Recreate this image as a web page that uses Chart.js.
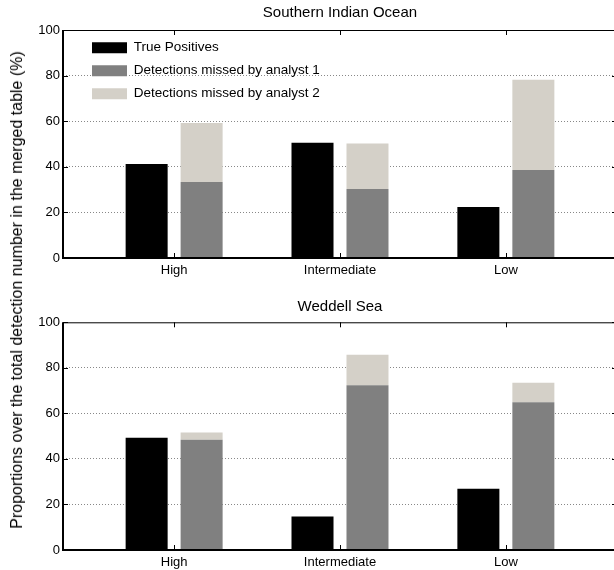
<!DOCTYPE html>
<html>
<head>
<meta charset="utf-8">
<script src="https://cdn.jsdelivr.net/npm/chart.js@4.4.0/dist/chart.umd.min.js"></script>
<style>
  html, body { margin:0; padding:0; background:#fff; overflow:hidden; width:614px; height:570px; }
  #wrap { position:relative; width:614px; height:570px; overflow:hidden; }
  .panel { position:absolute; left:0; width:617px; height:285px; }
  #ylab { position:absolute; left:17px; top:290px; transform:translate(-50%,-50%) rotate(-90deg);
          white-space:nowrap; font:16px "Liberation Sans", Arial, sans-serif; color:#000; }
</style>
</head>
<body>
<div id="wrap">
  <div class="panel" style="top:0"><canvas id="sio"></canvas></div>
  <div class="panel" style="top:285px"><canvas id="wed"></canvas></div>
  <div id="ylab">Proportions over the total detection number in the merged table (%)</div>
</div>
<script>
// data (percent)
const categories = ['High', 'Intermediate', 'Low'];
const seriesNames = ['True Positives', 'Detections missed by analyst 1', 'Detections missed by analyst 2'];
const yTicks = [0, 20, 40, 60, 80, 100];

// Southern Indian Ocean
const sioTrue    = [41.2, 50.5, 22.4];
const sioMissed1 = [33.3, 30.3, 38.6];
const sioMissed2 = [25.9, 19.9, 39.6]; // stacked on top of analyst 1

// Weddell Sea
const wedTrue    = [49.3, 14.7, 26.9];
const wedMissed1 = [48.4, 72.4, 64.9];
const wedMissed2 = [3.2, 13.3, 8.6];

Chart.defaults.font.family = '"Liberation Sans", Arial, sans-serif';
Chart.defaults.color = '#000';

// matlab-like box with inward ticks
const frame = {
  id: 'frame',
  afterDraw(chart) {
    const { ctx, chartArea: a, scales: { x, y } } = chart;
    ctx.save();
    ctx.strokeStyle = '#000';
    ctx.lineWidth = 1;
    ctx.beginPath();
    y.ticks.forEach(t => {
      const py = Math.round(y.getPixelForValue(t.value)) + 0.5;
      ctx.moveTo(a.left, py); ctx.lineTo(a.left + 5, py);
      ctx.moveTo(a.right, py); ctx.lineTo(a.right - 5, py);
    });
    x.ticks.forEach(t => {
      const px = Math.round(x.getPixelForValue(t.value)) + 0.5;
      ctx.moveTo(px, a.bottom); ctx.lineTo(px, a.bottom - 5);
      ctx.moveTo(px, a.top); ctx.lineTo(px, a.top + 5);
    });
    ctx.stroke();
    ctx.beginPath();
    ctx.moveTo(a.left, a.top + 0.5); ctx.lineTo(a.right, a.top + 0.5);
    ctx.stroke();
    ctx.lineWidth = 2;
    ctx.beginPath();
    ctx.moveTo(a.left, a.top); ctx.lineTo(a.left, a.bottom); ctx.lineTo(a.right, a.bottom);
    ctx.stroke();
    ctx.restore();
  }
};

// put the legend inside the plot box, a bit right of the axis
const legendShift = {
  id: 'legendShift',
  afterLayout(chart) {
    const lg = chart.legend, a = chart.chartArea;
    if (!lg) return;
    const h = lg.bottom - lg.top;
    lg.top = a.top + 1.5; lg.bottom = lg.top + h;
    lg.left += 19.5; lg.right += 19.5;
  }
};

function makeChart(id, title, tp, m1, m2, o) {
  const pts = arr => arr.map((v, i) => ({ x: i + 1, y: v }));
  return new Chart(document.getElementById(id), {
    type: 'bar',
    data: {
      datasets: [
        { label: seriesNames[0], data: pts(tp), backgroundColor: '#000000', stack: 'a' },
        { label: seriesNames[1], data: pts(m1), backgroundColor: '#808080', stack: 'b' },
        { label: seriesNames[2], data: pts(m2), backgroundColor: '#d4d0c8', stack: 'b' }
      ]
    },
    options: {
      responsive: true, maintainAspectRatio: false, animation: false, devicePixelRatio: 1,
      layout: { padding: 0 },
      datasets: { bar: { categoryPercentage: 0.663, barPercentage: 0.764, borderWidth: 0 } },
      scales: {
        x: {
          type: 'linear', min: 0.33, max: 3.67, offset: false, stacked: true,
          grid: { display: false, drawTicks: false, offset: false },
          border: { display: false },
          afterBuildTicks: s => { s.ticks = categories.map((c, i) => ({ value: i + 1 })); },
          ticks: { callback: v => categories[v - 1] ?? '', font: { size: 13 }, padding: 5, maxRotation: 0, autoSkip: false },
          afterFit: s => { s.height = o.xh; }
        },
        y: {
          min: 0, max: 100, stacked: true,
          grid: { color: c => (c.tick.value > 0 && c.tick.value < 100) ? '#888' : 'rgba(0,0,0,0)', drawTicks: false, lineWidth: 1 },
          border: { display: false, dash: [1, 2] },
          afterBuildTicks: s => { s.ticks = yTicks.map(v => ({ value: v })); },
          ticks: { font: { size: 13 }, padding: 3 },
          afterFit: s => { s.width = 63; }
        }
      },
      plugins: {
        tooltip: { enabled: false },
        title: {
          display: true, text: title, fullSize: false, color: '#000',
          font: { size: 15, weight: 'normal' }, padding: o.tpad
        },
        legend: {
          display: o.legend, position: 'chartArea', align: 'start',
          labels: { boxWidth: 35, boxHeight: 11, padding: 9.5, font: { size: 13.5 }, color: '#000' }
        }
      }
    },
    plugins: o.legend ? [frame, legendShift] : [frame]
  });
}

makeChart('sio', 'Southern Indian Ocean', sioTrue, sioMissed1, sioMissed2,
  { xh: 27, tpad: { top: 4, bottom: 8 }, legend: true });
makeChart('wed', 'Weddell Sea', wedTrue, wedMissed1, wedMissed2,
  { xh: 20, tpad: { top: 13, bottom: 6.3 }, legend: false });
</script>
</body>
</html>
